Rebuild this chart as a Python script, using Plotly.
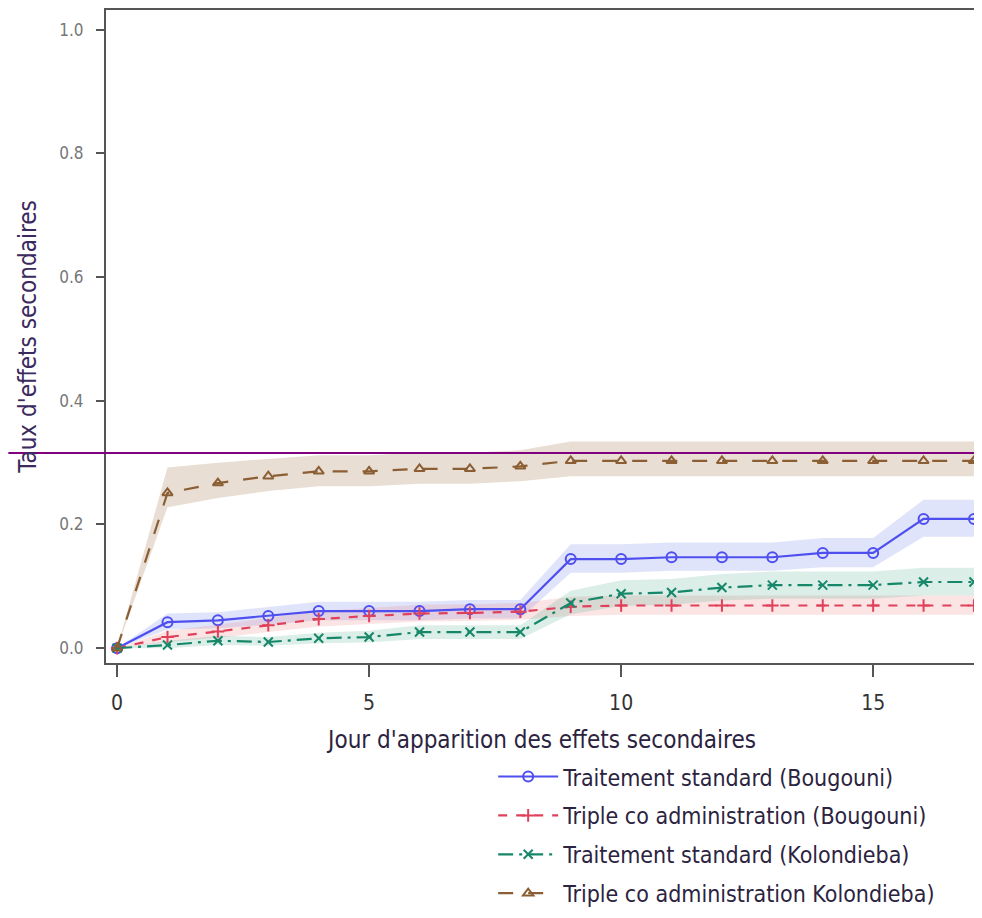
import plotly.graph_objects as go

days = list(range(0, 18))

# Traitement standard (Bougouni)
std_boug = [0, .042, .045, .052, .060, .060, .060, .063, .063, .144, .144, .147, .147, .147, .154, .154, .209, .209]
std_boug_lo = [0, .030, .032, .038, .045, .045, .045, .048, .048, .122, .122, .125, .125, .125, .131, .131, .180, .180]
std_boug_hi = [0, .056, .058, .066, .075, .075, .075, .078, .078, .168, .168, .171, .171, .171, .178, .178, .240, .240]

# Triple co administration (Bougouni)
tri_boug = [0, .018, .027, .037, .047, .052, .056, .057, .059, .067, .069, .069, .069, .069, .069, .069, .069, .069]
tri_boug_lo = [0, .010, .017, .026, .035, .039, .043, .044, .046, .052, .054, .054, .054, .054, .054, .054, .054, .054]
tri_boug_hi = [0, .028, .038, .049, .060, .065, .070, .071, .073, .083, .085, .085, .085, .085, .085, .085, .085, .085]

# Traitement standard (Kolondieba)
std_kol = [0, .005, .012, .010, .016, .018, .026, .026, .026, .073, .088, .090, .098, .102, .102, .102, .107, .107]
std_kol_lo = [0, .000, .005, .004, .008, .009, .015, .015, .015, .055, .068, .070, .077, .080, .080, .080, .085, .085]
std_kol_hi = [0, .012, .020, .018, .025, .028, .037, .037, .037, .093, .110, .112, .120, .124, .124, .124, .130, .130]

# Triple co administration Kolondieba
tri_kol = [0, .251, .267, .278, .286, .286, .290, .290, .294, .303, .303, .303, .303, .303, .303, .303, .303, .303]
tri_kol_lo = [0, .228, .243, .254, .262, .262, .266, .266, .270, .278, .278, .278, .278, .278, .278, .278, .278, .278]
tri_kol_hi = [0, .292, .300, .306, .312, .312, .316, .316, .320, .334, .334, .334, .334, .334, .334, .334, .334, .334]

ref_line = 0.3155

x_ticks = [0, 5, 10, 15]
y_ticks = [0.0, 0.2, 0.4, 0.6, 0.8, 1.0]
y_tick_text = ["0.0", "0.2", "0.4", "0.6", "0.8", "1.0"]

series = [
    ("Traitement standard (Bougouni)", std_boug, std_boug_lo, std_boug_hi,
     "#4f4ff0", "rgba(110,130,230,0.22)", "solid", "circle-open", 10),
    ("Triple co administration (Bougouni)", tri_boug, tri_boug_lo, tri_boug_hi,
     "#e0405a", "rgba(235,120,120,0.20)", "dash", "cross-thin-open", 9),
    ("Traitement standard (Kolondieba)", std_kol, std_kol_lo, std_kol_hi,
     "#17876a", "rgba(80,170,140,0.20)", "longdashdot", "x-thin-open", 9),
    ("Triple co administration Kolondieba)", tri_kol, tri_kol_lo, tri_kol_hi,
     "#8b5e34", "rgba(165,125,85,0.25)", "longdash", "triangle-up-open", 9),
]

fig = go.Figure()

# confidence bands
for name, y, lo, hi, col, fill, dash, sym, ms in series:
    fig.add_trace(go.Scatter(
        x=days + days[::-1], y=hi + lo[::-1], fill="toself", fillcolor=fill,
        line=dict(width=0), mode="lines", hoverinfo="skip", showlegend=False))

for i, (name, y, lo, hi, col, fill, dash, sym, ms) in enumerate(series):
    fig.add_trace(go.Scatter(
        x=days, y=y, name=name, mode="lines+markers",
        line=dict(color=col, width=2.2, dash=dash),
        marker=dict(symbol=sym, size=ms, color=col, line=dict(color=col, width=2)),
        legendgroup=f"g{i}"))

fig.add_shape(type="line", xref="paper", yref="y", x0=-0.112, x1=1.01,
              y0=ref_line, y1=ref_line, line=dict(color="#800080", width=2))

txt_font = "DejaVu Sans Condensed, Liberation Sans Narrow, sans-serif"

fig.update_layout(
    width=974, height=910,
    margin=dict(l=98, r=4, t=2, b=255, autoexpand=False),
    plot_bgcolor="white", paper_bgcolor="white",
    showlegend=True,
    legend=dict(x=0.444, y=-0.141, xanchor="left", yanchor="top",
                font=dict(family=txt_font, size=23, color="#2b2340"),
                tracegroupgap=6, itemwidth=60, bgcolor="rgba(0,0,0,0)"),
    xaxis=dict(range=[-0.22, 17.08], tickvals=x_ticks, ticks="outside", ticklen=12,
               tickwidth=2, tickcolor="#555", showgrid=False, zeroline=False,
               showline=True, linecolor="#555", linewidth=2, mirror=True,
               automargin=False, ticklabelstandoff=8,
               tickfont=dict(family=txt_font, size=21, color="#333"),
               title=dict(text="Jour d'apparition des effets secondaires",
                          font=dict(family=txt_font, size=24, color="#2b2340"),
                          standoff=17)),
    yaxis=dict(range=[-0.024, 1.032], tickvals=y_ticks, ticktext=y_tick_text,
               ticks="outside", ticklen=8, tickwidth=2, tickcolor="#555",
               showgrid=False, zeroline=False, showline=True, linecolor="#555",
               linewidth=2, mirror=True, automargin=False, ticklabelstandoff=9,
               tickfont=dict(family=txt_font, size=17, color="#777"),
               title=dict(text="Taux d'effets secondaires",
                          font=dict(family=txt_font, size=24, color="#3a2a60"),
                          standoff=16)),
)

fig.write_html("out.html")
